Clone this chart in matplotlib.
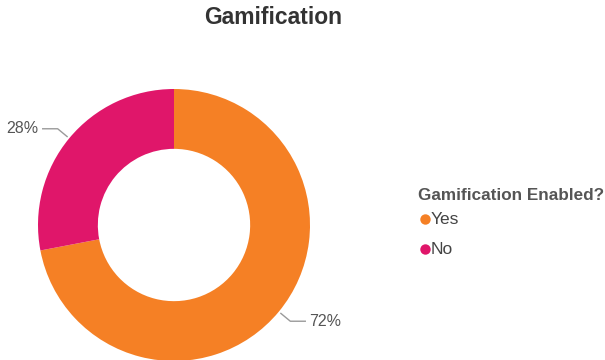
import numpy as np
import matplotlib
matplotlib.use("Agg")
import matplotlib.pyplot as plt

plt.rcParams['font.family'] = ['Liberation Sans', 'DejaVu Sans']

title = "Gamification"
legend_title = "Gamification Enabled?"
categories = ["Yes", "No"]
values = [72, 28]
colors = ["#F58025", "#E0166A"]

W, H = 605, 360
fig = plt.figure(figsize=(W / 100, H / 100), dpi=100)

# donut centred at (174, 225) px with an outer radius of 136 px
cx, cy, r = 174, 225, 136
ax = fig.add_axes([(cx - r) / W, (H - cy - r) / H, 2 * r / W, 2 * r / H])

wedges, _ = ax.pie(values, colors=colors, startangle=90, counterclock=False,
                   radius=1.0, wedgeprops=dict(width=0.44, edgecolor='none'))
ax.set_xlim(-1, 1)
ax.set_ylim(-1, 1)
ax.set_aspect('equal')
ax.axis('off')

# percentage labels with elbow leader lines
for w, v in zip(wedges, values):
    ang = np.deg2rad((w.theta1 + w.theta2) / 2)
    c, s = np.cos(ang), np.sin(ang)
    p0 = (1.02 * c, 1.02 * s)
    p1 = (1.11 * c, 1.11 * s)
    side = 1 if c >= 0 else -1
    p2 = (p1[0] + side * 0.11, p1[1])
    ax.plot([p0[0], p1[0], p2[0]], [p0[1], p1[1], p2[1]],
            color='#9a9a9a', lw=1.0, clip_on=False)
    ax.text(p2[0] + side * 0.03, p2[1], f"{v}%", ha='left' if side > 0 else 'right',
            va='center', fontsize=11.5, color='#555555', clip_on=False)

fig.text(273 / W, 1 - 17 / H, title, ha='center', va='center',
         fontsize=16.5, fontweight='bold', color='#333333')

# legend: bold title followed by a dot + label per category
fig.text(418 / W, 1 - 200 / H, legend_title, ha='left', va='baseline',
         fontsize=12.3, fontweight='bold', color='#555555')
for i, (cat, col) in enumerate(zip(categories, colors)):
    dot_y = 1 - (219 + 29.5 * i) / H
    base_y = 1 - (224 + 30 * i) / H
    fig.lines.append(plt.Line2D([424.5 / W], [dot_y], marker='o', markersize=7.5,
                                markerfacecolor=col, markeredgecolor='none',
                                linestyle='none', transform=fig.transFigure))
    fig.text(431 / W, base_y, cat, ha='left', va='baseline', fontsize=12.5,
             color='#444444')

fig.savefig("out.png", dpi=100, facecolor='white')
